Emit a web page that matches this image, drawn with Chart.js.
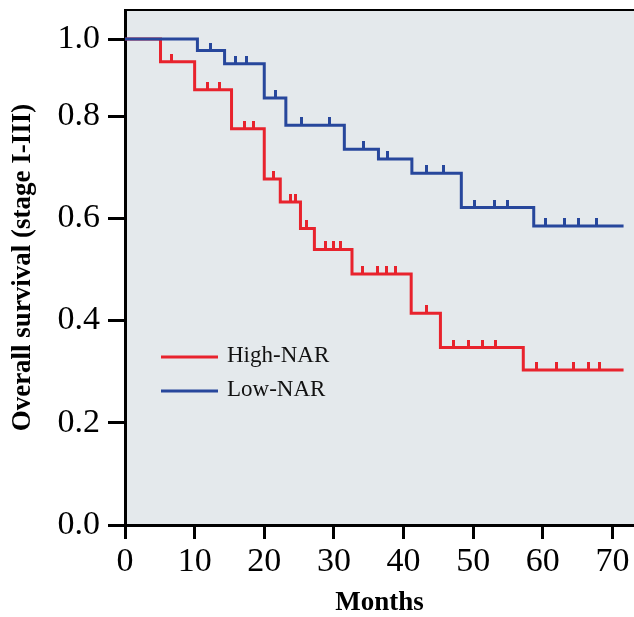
<!DOCTYPE html>
<html>
<head>
<meta charset="utf-8">
<script src="https://cdn.jsdelivr.net/npm/chart.js@4/dist/chart.umd.min.js"></script>
<style>
  html, body { margin: 0; padding: 0; background: #ffffff; }
  #wrap { width: 634px; height: 617px; }
</style>
</head>
<body>
<div id="wrap"><canvas id="c" width="634" height="617"></canvas></div>
<script>
// ---- Data ----
const seriesLabels = ['High-NAR', 'Low-NAR'];

// Low-NAR Kaplan–Meier steps (month of event, survival after event)
const lowTimes = [0, 10.4, 14.3, 20.0, 23.1, 31.5, 36.4, 41.2, 48.3, 58.7, 71.6];
const lowSurv  = [1.0, 0.970, 0.936, 0.847, 0.782, 0.735, 0.716, 0.688, 0.621, 0.585, 0.585];
const lowCensor = [12.3, 15.8, 17.4, 21.6, 25.3, 29.3, 34.3, 37.7, 43.3, 45.8, 50.2, 53.0, 55.0, 60.4, 63.1, 65.2, 67.7];

// High-NAR Kaplan–Meier steps
const highTimes = [0, 5.1, 10.0, 15.3, 20.0, 22.3, 25.2, 27.2, 32.6, 41.1, 45.3, 57.2, 71.6];
const highSurv  = [1.0, 0.941, 0.868, 0.775, 0.677, 0.632, 0.580, 0.539, 0.491, 0.414, 0.347, 0.303, 0.303];
const highCensor = [6.7, 11.9, 13.5, 17.1, 18.4, 21.3, 23.7, 24.5, 26.1, 28.8, 29.9, 30.9, 34.1, 36.3, 37.5, 38.9, 43.3, 47.2, 49.4, 51.3, 53.2, 59.1, 62.0, 64.4, 66.5, 68.2];

const xTicks = [0, 10, 20, 30, 40, 50, 60, 70];
const yTicks = [0.0, 0.2, 0.4, 0.6, 0.8, 1.0];

// ---- Styling ----
const RED = '#e8232d';
const BLUE = '#27479c';
const BG = '#e4e9ec';
const SERIF = '"Liberation Serif", "Times New Roman", serif';

// The reference y axis is not uniform: 0.8–1.0 is drawn compressed.
const yBreakValues = [0, 0.8, 1.0, 1.075];
const yBreakDecimals = [0, 409 / 515, 486 / 515, 1];

function piecewise(v, from, to) {
  for (let i = 1; i < from.length; i++) {
    if (v <= from[i] || i === from.length - 1) {
      const t = (v - from[i - 1]) / (from[i] - from[i - 1]);
      return to[i - 1] + t * (to[i] - to[i - 1]);
    }
  }
  return to[to.length - 1];
}

class PiecewiseScale extends Chart.LinearScale {
  getPixelForValue(value) {
    if (value === null || value === undefined || isNaN(value)) return NaN;
    return this.getPixelForDecimal(piecewise(value, yBreakValues, yBreakDecimals));
  }
  getValueForPixel(pixel) {
    return piecewise(this.getDecimalForPixel(pixel), yBreakDecimals, yBreakValues);
  }
}
PiecewiseScale.id = 'piecewise';
PiecewiseScale.defaults = Chart.LinearScale.defaults;
Chart.register(PiecewiseScale);

function stepPoints(times, surv) {
  return times.map((t, i) => ({ x: t, y: surv[i] }));
}
function survAt(times, surv, t) {
  let s = surv[0];
  for (let i = 0; i < times.length; i++) { if (times[i] <= t) s = surv[i]; }
  return s;
}
function censorPoints(cens, times, surv) {
  return cens.map(t => ({ x: t, y: survAt(times, surv, t) }));
}
function tickMark(color) {
  const c = document.createElement('canvas');
  c.width = 3; c.height = 16;
  const g = c.getContext('2d');
  g.fillStyle = color;
  g.fillRect(0, 0, 3, 8);
  return c;
}

const plotBg = {
  id: 'plotBg',
  beforeDraw(chart) {
    const { ctx, chartArea: a } = chart;
    ctx.save();
    ctx.fillStyle = BG;
    ctx.fillRect(a.left, a.top, a.right - a.left, a.bottom - a.top);
    ctx.strokeStyle = '#000';
    ctx.lineWidth = 2;
    ctx.beginPath();
    ctx.moveTo(a.left, a.top);
    ctx.lineTo(a.right, a.top);
    ctx.stroke();
    ctx.restore();
  }
};

const legendInside = {
  id: 'legendInside',
  afterDatasetsDraw(chart) {
    const { ctx } = chart;
    const items = [
      { label: seriesLabels[0], color: RED, y: 357 },
      { label: seriesLabels[1], color: BLUE, y: 391 }
    ];
    ctx.save();
    ctx.font = '23px ' + SERIF;
    ctx.textBaseline = 'middle';
    ctx.textAlign = 'left';
    items.forEach(it => {
      ctx.strokeStyle = it.color;
      ctx.lineWidth = 3;
      ctx.beginPath();
      ctx.moveTo(161, it.y);
      ctx.lineTo(218, it.y);
      ctx.stroke();
      ctx.fillStyle = '#111';
      ctx.fillText(it.label, 227, it.y - 1);
    });
    ctx.restore();
  }
};

new Chart(document.getElementById('c'), {
  type: 'line',
  data: {
    datasets: [
      { label: seriesLabels[1], data: stepPoints(lowTimes, lowSurv), borderColor: BLUE, borderWidth: 3,
        stepped: 'before', pointRadius: 0, fill: false, order: 0 },
      { label: seriesLabels[0], data: stepPoints(highTimes, highSurv), borderColor: RED, borderWidth: 3,
        stepped: 'before', pointRadius: 0, fill: false, order: 2 },
      { label: 'Low censor', data: censorPoints(lowCensor, lowTimes, lowSurv), showLine: false,
        pointStyle: tickMark(BLUE), pointRadius: 5, order: 1 },
      { label: 'High censor', data: censorPoints(highCensor, highTimes, highSurv), showLine: false,
        pointStyle: tickMark(RED), pointRadius: 5, order: 3 }
    ]
  },
  options: {
    responsive: false,
    devicePixelRatio: 1,
    animation: false,
    layout: { autoPadding: false, padding: { top: 10, right: 0, bottom: 0, left: 0 } },
    plugins: { legend: { display: false }, tooltip: { enabled: false } },
    scales: {
      x: {
        type: 'linear',
        min: 0, max: 73.1,
        afterBuildTicks: s => { s.ticks = xTicks.map(v => ({ value: v })); },
        afterFit: s => { s.height = 92; s.paddingLeft = 0; s.paddingRight = 0; },
        border: { display: true, color: '#000', width: 3 },
        grid: { display: true, drawOnChartArea: false, drawTicks: true, tickLength: 14, tickWidth: 3, tickColor: '#000' },
        ticks: { color: '#000', font: { family: SERIF, size: 34 }, padding: 3, maxRotation: 0,
                 callback: v => String(v) },
        title: { display: true, text: 'Months', color: '#000',
                 font: { family: SERIF, size: 27, weight: 'bold', lineHeight: 1 }, padding: { top: 0, bottom: 0 } }
      },
      y: {
        type: 'piecewise',
        min: 0, max: 1.075,
        afterBuildTicks: s => { s.ticks = yTicks.map(v => ({ value: v })); },
        afterFit: s => { s.width = 125; s.paddingTop = 0; s.paddingBottom = 0; },
        border: { display: true, color: '#000', width: 3 },
        grid: { display: true, drawOnChartArea: false, drawTicks: true, tickLength: 17, tickWidth: 3, tickColor: '#000' },
        ticks: { color: '#000', font: { family: SERIF, size: 34 }, padding: 8,
                 callback: v => Number(v).toFixed(1) },
        title: { display: true, text: 'Overall survival (stage I-III)', color: '#000',
                 font: { family: SERIF, size: 27, weight: 'bold', lineHeight: 1 }, padding: { top: 10, bottom: 0 } }
      }
    }
  },
  plugins: [plotBg, legendInside]
});
</script>
</body>
</html>
